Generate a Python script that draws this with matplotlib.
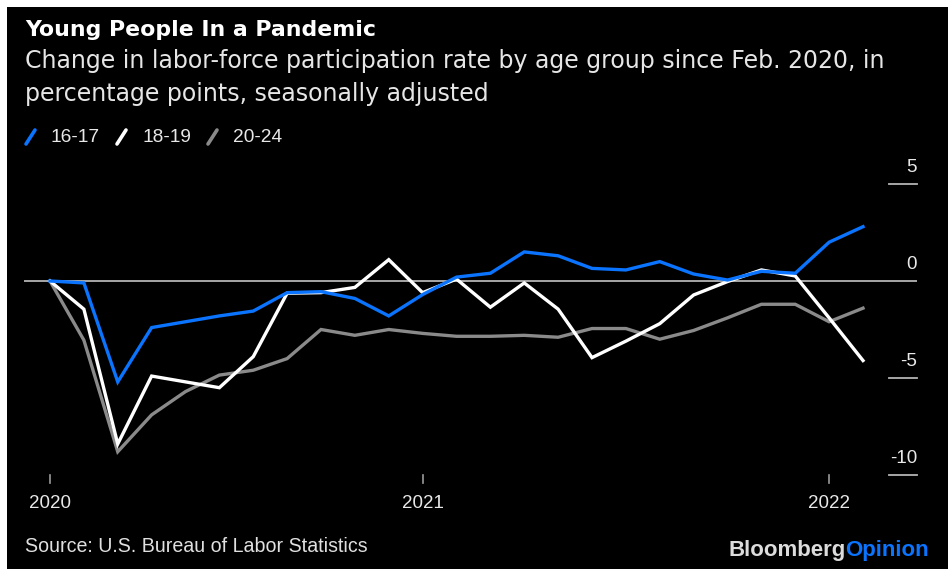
import matplotlib.pyplot as plt
from matplotlib.lines import Line2D
from matplotlib.patches import Rectangle
import matplotlib.transforms as mtransforms

W, H = 948, 569

# monthly change since Feb. 2020, percentage points
months = ['2020-02', '2020-03', '2020-04', '2020-05', '2020-06', '2020-07', '2020-08',
          '2020-09', '2020-10', '2020-11', '2020-12', '2021-01', '2021-02', '2021-03',
          '2021-04', '2021-05', '2021-06', '2021-07', '2021-08', '2021-09', '2021-10',
          '2021-11', '2021-12', '2022-01', '2022-02']
age_16_17 = [0.0, -0.1, -5.2, -2.4, -2.1, -1.8, -1.55, -0.6, -0.55, -0.9, -1.8, -0.7, 0.2,
             0.4, 1.5, 1.3, 0.65, 0.57, 1.0, 0.36, 0.05, 0.5, 0.4, 2.0, 2.8]
age_18_19 = [0.0, -1.45, -8.4, -4.9, -5.2, -5.5, -3.9, -0.63, -0.6, -0.33, 1.1, -0.6, 0.1,
             -1.35, -0.1, -1.45, -3.95, -3.1, -2.2, -0.72, -0.03, 0.57, 0.26, -1.9, -4.1]
age_20_24 = [0.0, -3.05, -8.8, -6.9, -5.7, -4.85, -4.6, -4.0, -2.5, -2.8, -2.5, -2.7, -2.85,
             -2.85, -2.8, -2.9, -2.45, -2.45, -3.0, -2.55, -1.9, -1.2, -1.2, -2.1, -1.4]

year_ticks = ['2020-02', '2021-01', '2022-01']
year_labels = ['2020', '2021', '2022']
y_ticks = [5, 0, -5, -10]

BLUE = '#0a74ff'
GRAY = '#8a8a8a'
RULE = '#b4b4b4'
WIDE = ['DejaVu Sans']


def fx(px):
    return px / W


def fy(py):
    return 1 - py / H


fig = plt.figure(figsize=(W / 100, H / 100), dpi=100)
fig.patch.set_facecolor('white')
fig.patches.append(Rectangle((fx(7), 0), 1 - fx(7), fy(7), transform=fig.transFigure,
                             facecolor='black', edgecolor='none', zorder=-10))
plt.rcParams['font.family'] = ['Liberation Sans', 'DejaVu Sans']

# plot area: zero rule runs from x=24 to x=917 px
left, right, top, bottom = 24, 917, 170, 490
ax = fig.add_axes([fx(left), fy(bottom), fx(right - left), (bottom - top) / H])
ax.set_facecolor('none')
for s in ax.spines.values():
    s.set_visible(False)
ax.set_xticks([])
ax.set_yticks([])

x = list(range(len(months)))
step = (863 - 50) / (len(months) - 1)
ax.set_xlim(-(50 - left) / step, len(months) - 1 + (right - 863) / step)
unit = 19.4
ax.set_ylim(-(bottom - 281) / unit, (281 - top) / unit)

ax.axhline(0, color=RULE, lw=1.3, zorder=1)
ax.plot(x, age_20_24, color=GRAY, lw=2.4, zorder=2, solid_joinstyle='miter')
ax.plot(x, age_18_19, color='white', lw=2.4, zorder=3, solid_joinstyle='miter')
ax.plot(x, age_16_17, color=BLUE, lw=2.4, zorder=4, solid_joinstyle='miter')

# y labels sit above short rules on the right
trans = mtransforms.blended_transform_factory(ax.transAxes, ax.transData)
x0 = (889 - left) / (right - left)
for v in y_ticks:
    if v != 0:
        ax.plot([x0, 1.0], [v, v], color=RULE, lw=1.3, transform=trans, clip_on=False)
    ax.annotate(f'{v}', xy=(1.0, v), xycoords=trans, xytext=(0, 6),
                textcoords='offset points', ha='right', va='bottom',
                color='#e8e8e8', fontsize=13.5)

# year ticks and labels below the plot
for m, lab in zip(year_ticks, year_labels):
    i = months.index(m)
    xp = left + (i - ax.get_xlim()[0]) * step
    fig.add_artist(Line2D([fx(xp), fx(xp)], [fy(475), fy(483)], color='#9a9a9a', lw=1.2))
    fig.text(fx(xp), fy(503), lab, ha='center', va='center', color='#e8e8e8', fontsize=13.5)

# header
fig.text(fx(25), fy(36), 'Young People In a Pandemic', ha='left', va='baseline',
         color='white', fontsize=15.8, fontweight='bold', family=WIDE)
fig.text(fx(25), fy(68), 'Change in labor-force participation rate by age group since Feb. 2020, in',
         ha='left', va='baseline', color='#e6e6e6', fontsize=17, family=WIDE)
fig.text(fx(25), fy(101), 'percentage points, seasonally adjusted',
         ha='left', va='baseline', color='#e6e6e6', fontsize=17, family=WIDE)

# legend with slash keys
legend_items = [('16-17', BLUE, 26, 50), ('18-19', 'white', 117, 143), ('20-24', GRAY, 208, 233)]
for lab, col, sx, tx in legend_items:
    fig.add_artist(Line2D([fx(sx), fx(sx + 9)], [fy(144), fy(130)], color=col, lw=2.6,
                          solid_capstyle='round'))
    fig.text(fx(tx), fy(142), lab, ha='left', va='baseline', color='#e8e8e8', fontsize=13.8)

# footer
fig.text(fx(25), fy(552), 'Source: U.S. Bureau of Labor Statistics', ha='left',
         va='baseline', color='#e0e0e0', fontsize=14.1)
op = fig.text(fx(929), fy(556), 'Opinion', ha='right', va='baseline', color=BLUE,
              fontsize=16, fontweight='bold')
fig.canvas.draw()
bb = op.get_window_extent()
fig.text(bb.x0 / W, fy(556), 'Bloomberg', ha='right', va='baseline', color='#dcdcdc',
         fontsize=16, fontweight='bold')

fig.savefig('out.png', dpi=100, facecolor=fig.get_facecolor())
